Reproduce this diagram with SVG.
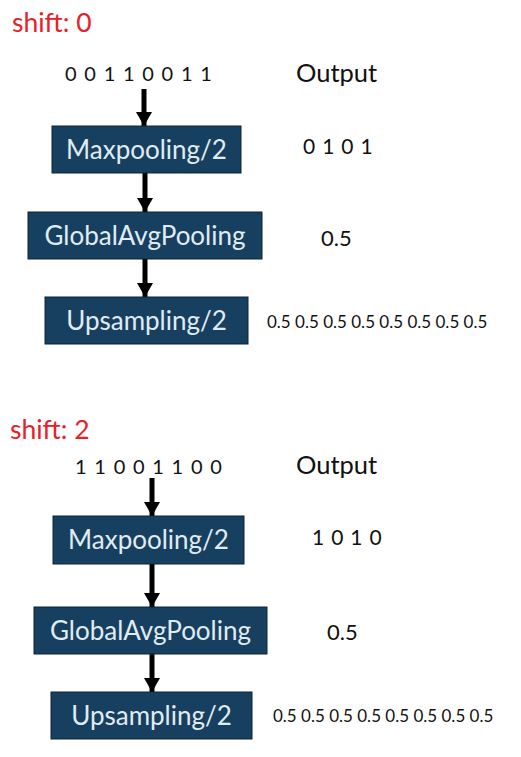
<svg xmlns="http://www.w3.org/2000/svg" width="521" height="757" viewBox="0 0 521 757">
<style>
.box{fill:#173f5f;stroke:#0d2438;stroke-width:1}
.bt{font-family:Lato,"Open Sans",sans-serif;font-size:26px;fill:#e0ecf3;text-anchor:middle}
.shift{font-family:Lato,"Open Sans",sans-serif;font-size:26.5px;fill:#e8202a}
.t{font-family:Lato,"Open Sans",sans-serif;fill:#111}
.conn{stroke:#000;stroke-width:5;fill:none;marker-end:url(#ah)}
</style>
<defs>
<marker id="ah" markerUnits="userSpaceOnUse" markerWidth="16" markerHeight="16" viewBox="0 0 14 16" refX="14" refY="8" orient="auto">
<path d="M0,0 L14,8 L0,16 Z" fill="#000"/>
</marker>
</defs>
<rect width="521" height="757" fill="#fff"/>
<text class="shift" x="12" y="32">shift: 0</text>
<text class="t" x="65" y="81" font-size="20" letter-spacing="1.3">0 0 1 1 0 0 1 1</text>
<text class="t" x="296" y="82" font-size="25.5">Output</text>
<text class="t" x="303" y="154" font-size="21" letter-spacing="0.8">0 1 0 1</text>
<text class="t" x="321" y="246" font-size="22">0.5</text>
<text class="t" x="267" y="328" font-size="17">0.5 0.5 0.5 0.5 0.5 0.5 0.5 0.5</text>

<text class="shift" x="10" y="439">shift: 2</text>
<text class="t" x="75" y="474" font-size="20" letter-spacing="1.3">1 1 0 0 1 1 0 0</text>
<text class="t" x="296" y="474" font-size="25.5">Output</text>
<text class="t" x="312" y="545" font-size="21" letter-spacing="0.8">1 0 1 0</text>
<text class="t" x="327" y="640" font-size="22">0.5</text>
<text class="t" x="273" y="722" font-size="17">0.5 0.5 0.5 0.5 0.5 0.5 0.5 0.5</text>

<g id="connectors">
<line class="conn" x1="144" y1="89" x2="144" y2="126"/>
<line class="conn" x1="145" y1="173" x2="145" y2="212"/>
<line class="conn" x1="145" y1="259" x2="145" y2="297"/>
<line class="conn" x1="152" y1="478" x2="152" y2="516"/>
<line class="conn" x1="152" y1="564" x2="152" y2="607"/>
<line class="conn" x1="152" y1="654" x2="152" y2="692"/>
</g>

<g id="max1"><rect class="box" x="52" y="126" width="189" height="47"/><text class="bt" x="146.5" y="159">Maxpooling/2</text></g>
<g id="gap1"><rect class="box" x="28" y="212" width="234" height="47"/><text class="bt" x="145" y="245">GlobalAvgPooling</text></g>
<g id="up1"><rect class="box" x="45" y="297" width="203" height="47"/><text class="bt" x="146.5" y="330">Upsampling/2</text></g>

<g id="max2"><rect class="box" x="53" y="516" width="191" height="48"/><text class="bt" x="148.5" y="549">Maxpooling/2</text></g>
<g id="gap2"><rect class="box" x="34" y="607" width="233" height="47"/><text class="bt" x="150.5" y="640">GlobalAvgPooling</text></g>
<g id="up2"><rect class="box" x="51" y="692" width="201" height="47"/><text class="bt" x="151.5" y="725">Upsampling/2</text></g>
</svg>
